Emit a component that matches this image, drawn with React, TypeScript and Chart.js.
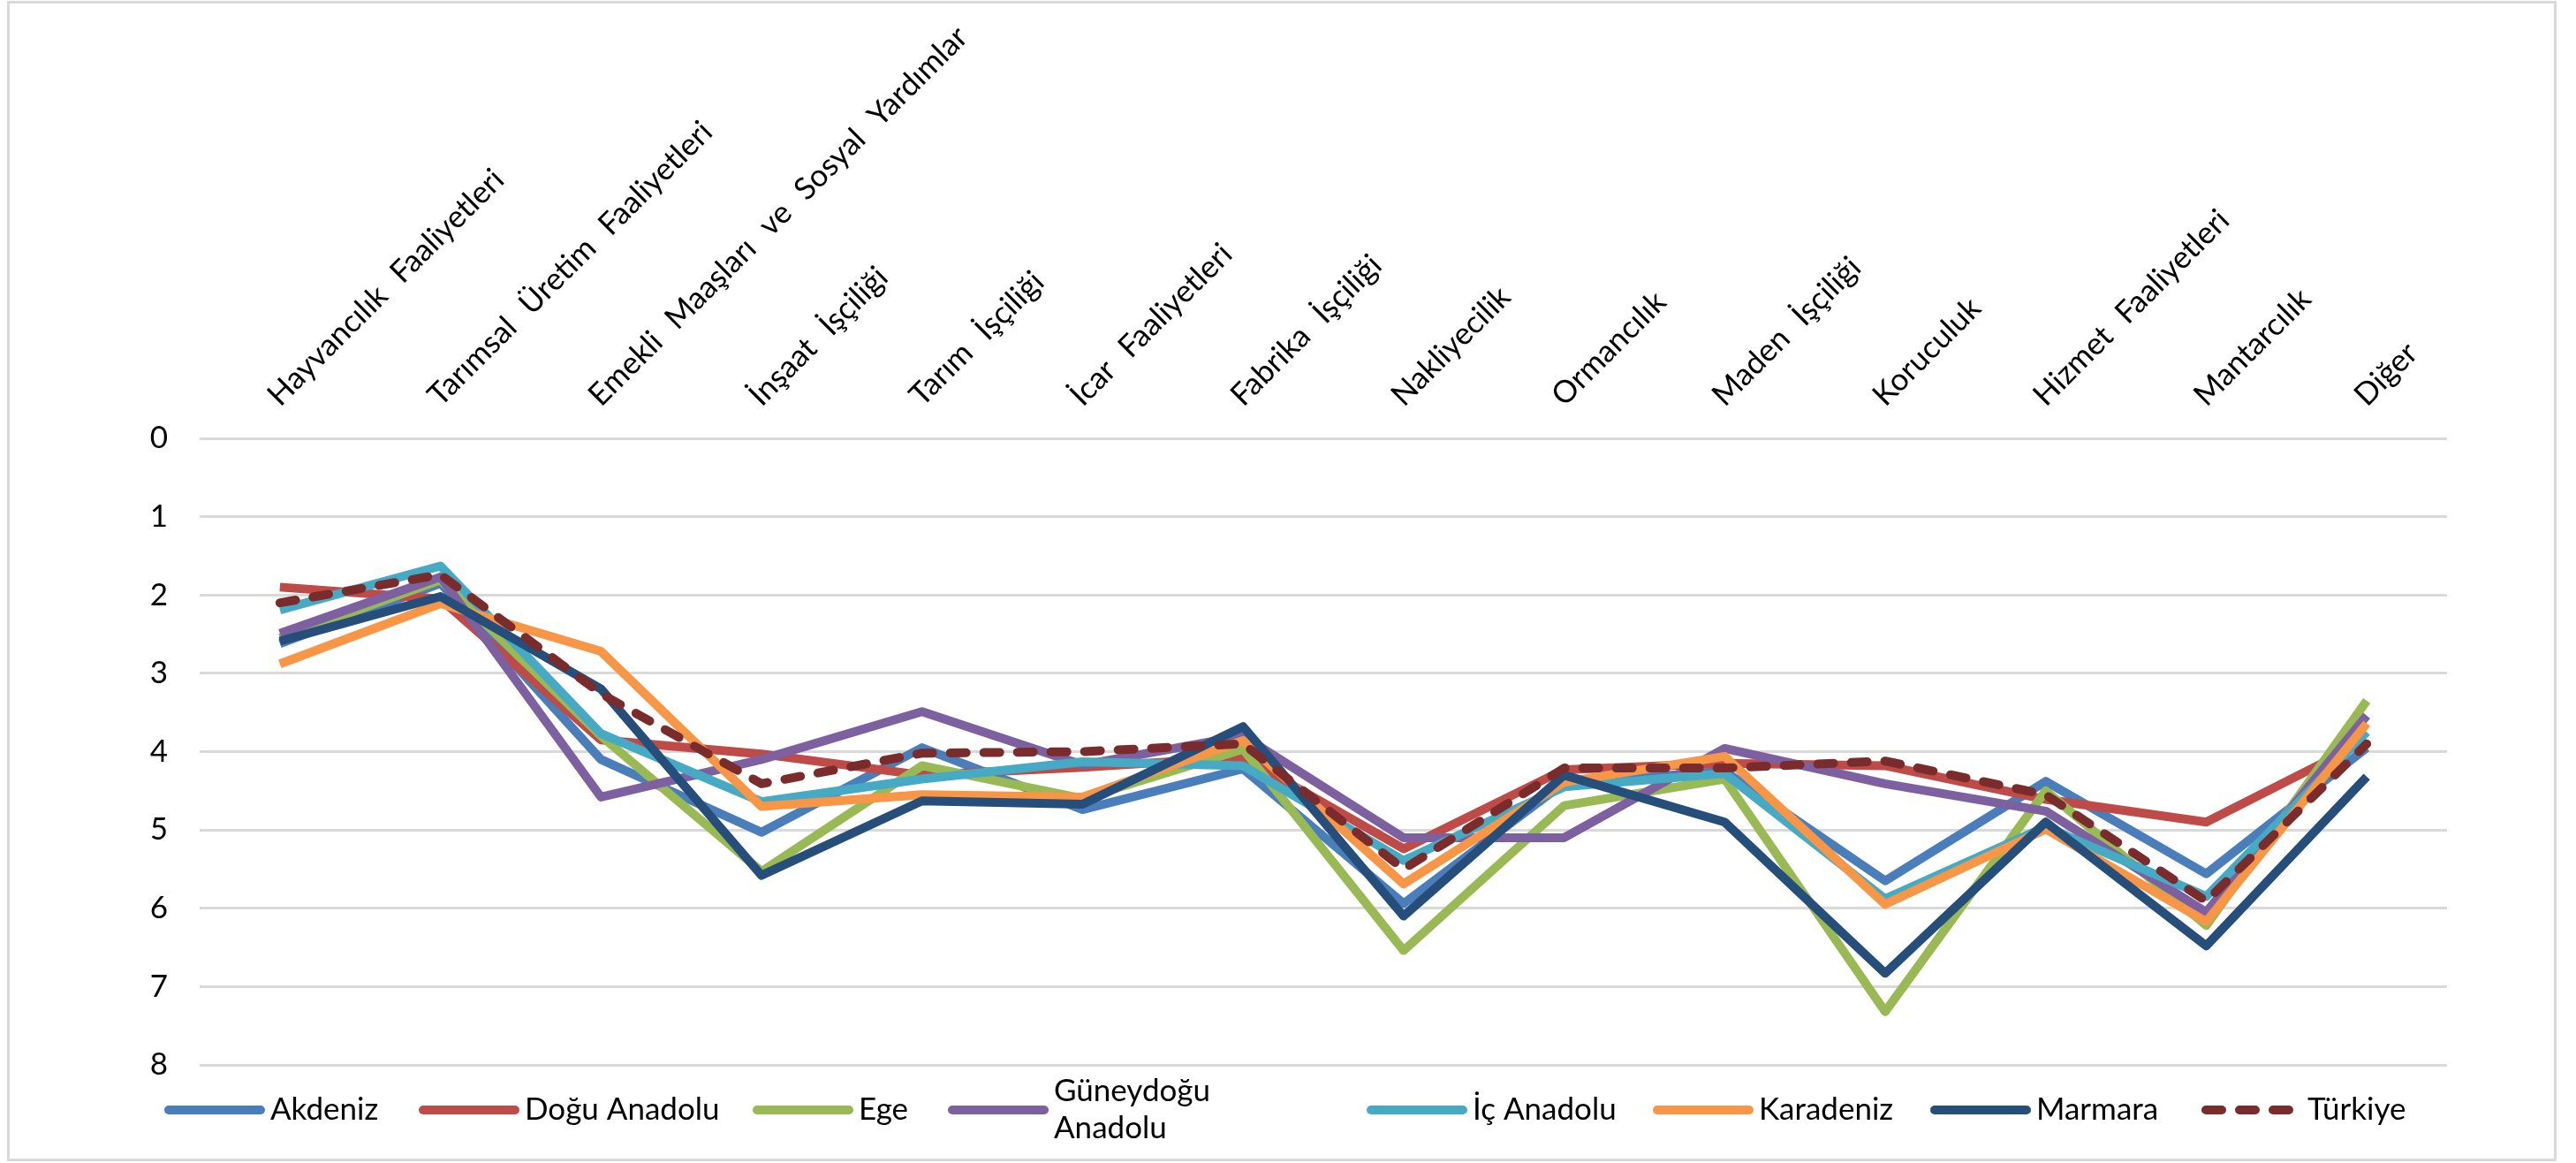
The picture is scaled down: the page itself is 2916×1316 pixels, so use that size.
import React, { useEffect, useRef } from 'react';
import { Chart, registerables } from 'chart.js';

Chart.register(...registerables);

// ---------- DATA ----------
const categories = [
  'Hayvancılık Faaliyetleri',
  'Tarımsal Üretim Faaliyetleri',
  'Emekli Maaşları ve Sosyal Yardımlar',
  'İnşaat İşçiliği',
  'Tarım İşçiliği',
  'İcar Faaliyetleri',
  'Fabrika İşçiliği',
  'Nakliyecilik',
  'Ormancılık',
  'Maden İşçiliği',
  'Koruculuk',
  'Hizmet Faaliyetleri',
  'Mantarcılık',
  'Diğer',
];

const seriesNames = [
  'Akdeniz',
  'Doğu Anadolu',
  'Ege',
  'Güneydoğu Anadolu',
  'İç Anadolu',
  'Karadeniz',
  'Marmara',
  'Türkiye',
];

const legendLabels = [
  ['Akdeniz'],
  ['Doğu Anadolu'],
  ['Ege'],
  ['Güneydoğu', 'Anadolu'],
  ['İç Anadolu'],
  ['Karadeniz'],
  ['Marmara'],
  ['Türkiye'],
];

const akdeniz = [2.62, 1.85, 4.1, 5.03, 3.95, 4.74, 4.22, 5.94, 4.4, 4.25, 5.65, 4.38, 5.56, 3.95];
const doguAnadolu = [1.9, 2.05, 3.85, 4.03, 4.3, 4.2, 4.07, 5.24, 4.23, 4.15, 4.18, 4.61, 4.9, 3.86];
const ege = [2.55, 1.81, 3.8, 5.53, 4.18, 4.6, 3.97, 6.54, 4.69, 4.35, 7.32, 4.5, 6.22, 3.35];
const guneydoguAnadolu = [2.49, 1.77, 4.58, 4.1, 3.49, 4.17, 3.8, 5.1, 5.1, 3.96, 4.41, 4.76, 6.05, 3.54];
const icAnadolu = [2.19, 1.63, 3.77, 4.64, 4.35, 4.13, 4.18, 5.39, 4.45, 4.28, 5.88, 4.96, 5.85, 3.75];
const karadeniz = [2.88, 2.11, 2.72, 4.7, 4.55, 4.58, 3.86, 5.69, 4.39, 4.06, 5.95, 4.99, 6.17, 3.64];
const marmara = [2.59, 2.02, 3.2, 5.58, 4.63, 4.67, 3.68, 6.1, 4.3, 4.9, 6.83, 4.9, 6.48, 4.32];
const turkiye = [2.1, 1.74, 3.26, 4.41, 4.02, 4.0, 3.9, 5.5, 4.21, 4.21, 4.12, 4.55, 5.91, 3.9];

const seriesValues = [akdeniz, doguAnadolu, ege, guneydoguAnadolu, icAnadolu, karadeniz, marmara, turkiye];

const yMin = 0;
const yMax = 8;
const yStep = 1;

// ---------- STYLE ----------
const seriesColors = ['#4a7ebb', '#be4b48', '#98b954', '#7d60a0', '#46aac5', '#f79646', '#254e7a', '#7a2b2b'];
const W = 2916;
const H = 1316;
const FONT = 'Lato, "Open Sans", "DejaVu Sans", sans-serif';
const FONT_SIZE = 35;
const LEGEND_X = [186, 474, 852, 1073, 1547, 1871, 2185, 2492];
const LEGEND_Y = 1256;
const LEGEND_LINE = 114;

const framePlugin = {
  id: 'frame',
  beforeDraw(chart: any) {
    const ctx = chart.ctx;
    ctx.save();
    ctx.fillStyle = '#ffffff';
    ctx.fillRect(0, 0, chart.width, chart.height);
    ctx.strokeStyle = '#d9d9d9';
    ctx.lineWidth = 3;
    ctx.strokeRect(9.5, 2.5, 2883, 1310);
    ctx.restore();
    // wider word gaps for the rotated category labels (as in the original)
    ctx.wordSpacing = '12px';
  },
};

const legendPlugin = {
  id: 'excelLegend',
  afterDraw(chart: any) {
    const ctx = chart.ctx;
    ctx.save();
    ctx.wordSpacing = '0px';
    ctx.font = `${FONT_SIZE}px ${FONT}`;
    ctx.textBaseline = 'middle';
    ctx.textAlign = 'left';
    chart.data.datasets.forEach((ds: any, i: number) => {
      const x0 = LEGEND_X[i];
      ctx.strokeStyle = ds.borderColor;
      ctx.lineWidth = 10;
      ctx.lineCap = 'round';
      ctx.setLineDash(ds.borderDash || []);
      ctx.beginPath();
      ctx.moveTo(x0 + 5, LEGEND_Y);
      ctx.lineTo(x0 + LEGEND_LINE - 5, LEGEND_Y);
      ctx.stroke();
      ctx.setLineDash([]);
      ctx.fillStyle = '#000000';
      const lines = legendLabels[i];
      const lh = 42;
      lines.forEach((t, j) => {
        ctx.fillText(t, x0 + LEGEND_LINE + 6, LEGEND_Y + (j - (lines.length - 1) / 2) * lh);
      });
    });
    ctx.restore();
    ctx.wordSpacing = '0px';
  },
};

export default function App() {
  const canvasRef = useRef<HTMLCanvasElement | null>(null);

  useEffect(() => {
    if (!canvasRef.current) return;
    const n = seriesNames.length;
    const datasets = seriesNames.map((name, i) => {
      const dashed = name === 'Türkiye';
      return {
        label: name,
        data: seriesValues[i],
        borderColor: seriesColors[i],
        backgroundColor: seriesColors[i],
        borderWidth: 10,
        borderDash: dashed ? [18, 20] : [],
        borderCapStyle: dashed ? 'round' : 'butt',
        borderJoinStyle: 'round',
        pointRadius: 0,
        pointHoverRadius: 0,
        tension: 0,
        fill: false,
        order: n - 1 - i,
      };
    });

    const chart = new Chart(canvasRef.current, {
      type: 'line',
      data: { labels: categories, datasets: datasets as any },
      options: {
        responsive: false,
        animation: false,
        devicePixelRatio: 1,
        layout: { padding: { left: 150, right: 146, top: 20, bottom: H - 1205 } },
        plugins: {
          legend: { display: false },
          tooltip: { enabled: false },
          title: { display: false },
        },
        scales: {
          x: {
            position: 'top',
            offset: true,
            grid: { display: false, drawTicks: false },
            border: { display: false },
            ticks: {
              autoSkip: false,
              minRotation: 45,
              maxRotation: 45,
              padding: 28,
              labelOffset: 22,
              color: '#000000',
              font: { family: FONT, size: FONT_SIZE },
            },
            afterFit: (s: any) => {
              s.height = 476;
            },
          },
          y: {
            reverse: true,
            min: yMin,
            max: yMax,
            grid: { color: '#d9d9d9', lineWidth: 3, drawTicks: false },
            border: { display: false },
            ticks: {
              stepSize: yStep,
              padding: 36,
              color: '#000000',
              font: { family: FONT, size: FONT_SIZE },
            },
            afterFit: (s: any) => {
              s.width = 76;
            },
          },
        },
      },
      plugins: [framePlugin, legendPlugin],
    });
    return () => chart.destroy();
  }, []);

  return (
    <div style={{ position: 'absolute', left: 0, top: 0, width: W, height: H }}>
      <canvas ref={canvasRef} width={W} height={H} style={{ display: 'block', width: W, height: H }} />
    </div>
  );
}
